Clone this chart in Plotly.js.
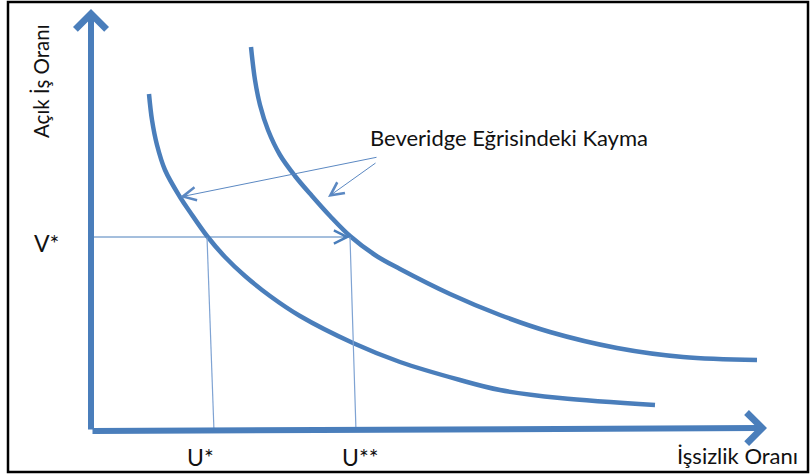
<!DOCTYPE html>
<html>
<head>
<meta charset="utf-8">
<script src="https://cdn.plot.ly/plotly-3.0.1.min.js"></script>
<style>html,body{margin:0;padding:0;background:#fff;}#chart{width:811px;height:475px;}</style>
</head>
<body>
<div id="chart"></div>
<script>
// Curve 1 (initial Beveridge curve) – unemployment (u) and vacancy (v) values
var curve1U = [58, 61, 66, 74, 89, 99, 116, 134, 154, 179, 209, 262, 309, 369, 409, 469, 564];
var curve1V = [337, 311, 286, 261, 234, 219, 195, 174, 155, 135, 115, 88, 69, 51, 41, 33, 26];
// Curve 2 (shifted Beveridge curve)
var curve2U = [160, 164, 169, 177, 189, 204, 221, 239, 259, 284, 309, 359, 409, 459, 526, 592, 666];
var curve2V = [384, 351, 326, 301, 276, 255, 235, 215, 195, 176, 162, 137, 116, 99, 83, 74, 71];
// Reference levels
var vStar = 194;
var uStar = [116, 123];      // top, bottom of U* guide
var uStarStar = [259, 265];  // top, bottom of U** guide
var axisEnd = {x: [676, 3], y: [0, 422]};
// Shift-arrow (tail -> head)
var shiftTail = [[287, 274], [286, 269]];
var shiftHead = [[89, 234], [237, 234]];
// Labels
var labelTexts = ["V*", "U*", "U**", "İşsizlik Oranı", "Açık İş Oranı", "Beveridge Eğrisindeki Kayma"];

var blue = "#4a7ebb";
var thin = "#5b88c2";
var font = "Lato, 'Open Sans', sans-serif";

var traces = [
  {x: curve1U, y: curve1V, mode: "lines", line: {color: blue, width: 4.5, shape: "spline", smoothing: 1}, hoverinfo: "skip"},
  {x: curve2U, y: curve2V, mode: "lines", line: {color: blue, width: 4.5, shape: "spline", smoothing: 1}, hoverinfo: "skip"},
  {x: [uStar[0], uStar[1]], y: [vStar, 0], mode: "lines", line: {color: "#7fa3d3", width: 1.2}, hoverinfo: "skip"},
  {x: [uStarStar[0], uStarStar[1]], y: [vStar, 0], mode: "lines", line: {color: "#7fa3d3", width: 1.2}, hoverinfo: "skip"}
];

function arrow(tail, head, width, color, style, size) {
  return {x: head[0], y: head[1], ax: tail[0], ay: tail[1], xref: "x", yref: "y", axref: "x", ayref: "y",
    text: "", showarrow: true, arrowhead: style, arrowsize: size, arrowwidth: width, arrowcolor: color, standoff: 0, startstandoff: 0};
}

var annotations = [
  arrow([0, 0], [axisEnd.x[0], axisEnd.x[1]], 6, blue, 4, 1),
  arrow([0, 0], [0, axisEnd.y[1]], 6, blue, 4, 1),
  arrow([0, vStar], [uStarStar[0], vStar], 1, blue, 5, 2.6),
  arrow(shiftTail[0], shiftHead[0], 1, thin, 5, 2.6),
  arrow(shiftTail[1], shiftHead[1], 1, thin, 5, 2.6),
  {x: -45, y: 188, xref: "x", yref: "y", text: labelTexts[0], showarrow: false, font: {family: font, size: 23, color: "#111"}},
  {x: 109, y: -26, xref: "x", yref: "y", text: labelTexts[1], showarrow: false, font: {family: font, size: 23, color: "#111"}},
  {x: 269, y: -26, xref: "x", yref: "y", text: labelTexts[2], showarrow: false, font: {family: font, size: 23, color: "#111"}},
  {x: 646, y: -24, xref: "x", yref: "y", text: labelTexts[3], showarrow: false, font: {family: font, size: 22, color: "#111"}},
  {x: -50, y: 350, xref: "x", yref: "y", text: labelTexts[4], showarrow: false, textangle: -90, font: {family: font, size: 20.5, color: "#111"}},
  {x: 277, y: 294, xref: "x", yref: "y", xanchor: "left", text: labelTexts[5], showarrow: false, font: {family: font, size: 22, color: "#111"}}
];

var layout = {
  width: 811, height: 475,
  margin: {l: 0, r: 0, t: 0, b: 0},
  paper_bgcolor: "#fff", plot_bgcolor: "#fff",
  showlegend: false,
  xaxis: {range: [-91, 720], visible: false, fixedrange: true},
  yaxis: {range: [-44, 431], visible: false, fixedrange: true},
  annotations: annotations,
  shapes: [{type: "rect", xref: "paper", yref: "paper", x0: 8/811, x1: 808/811, y0: 1 - 472/475, y1: 1 - 2/475,
    line: {color: "#000", width: 2.5}}]
};

Plotly.newPlot("chart", traces, layout, {displayModeBar: false, staticPlot: true});
</script>
</body>
</html>
